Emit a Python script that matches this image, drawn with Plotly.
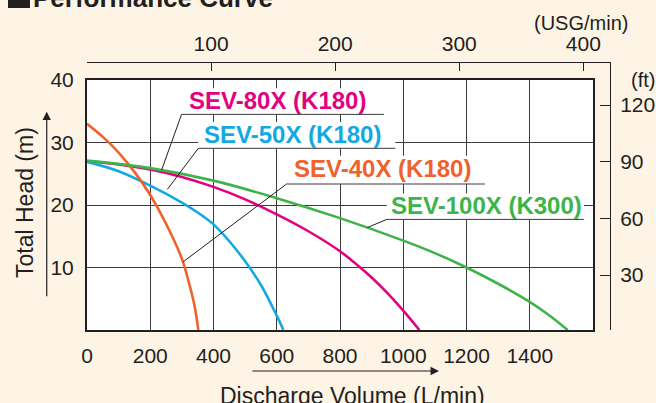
import plotly.graph_objects as go

# ---------------- data ----------------
q_40 = [0, 50, 100, 150, 200, 250, 300, 320, 340, 352]
h_40 = [33.0, 30.9, 28.4, 25.3, 21.6, 17.0, 11.4, 8.0, 3.9, 0]

q_50 = [0, 100, 200, 300, 350, 400, 450, 500, 550, 600, 621]
h_50 = [26.9, 25.4, 23.1, 20.4, 18.8, 16.9, 14.2, 11.0, 7.2, 2.3, 0]

q_80 = [0, 100, 200, 300, 400, 500, 600, 700, 800, 850, 900, 950, 1000, 1051]
h_80 = [27.0, 26.5, 25.7, 24.5, 22.9, 20.9, 18.5, 15.8, 12.6, 10.6, 8.4, 5.9, 3.1, 0]

q_100 = [0, 200, 400, 600, 800, 1000, 1100, 1200, 1300, 1400, 1460, 1520]
h_100 = [27.1, 25.9, 23.9, 21.1, 17.9, 14.3, 12.3, 10.0, 7.4, 4.5, 2.4, 0]

series_names = ["SEV-80X (K180)", "SEV-50X (K180)", "SEV-40X (K180)", "SEV-100X (K300)"]
series_colors = ["#E5007F", "#12A9E3", "#F0622C", "#3DB449"]

x_ticks = [0, 200, 400, 600, 800, 1000, 1200, 1400]
y_ticks = [10, 20, 30, 40]
usg_ticks = [100, 200, 300, 400]
ft_ticks = [30, 60, 90, 120]

# label placement (data coords): text centre, underline (x0, x1, y), leader end on curve
label_text_pos = [(601, 36.7), (649, 31.3), (933, 25.9), (1262, 19.85)]
label_underline = [(299, 939, 34.5), (352, 975, 29.07), (631, 1258, 23.36), (948, 1571, 17.7)]
label_leader_end = [(236, 25.6), (254, 22.5), (304, 10.9), (887, 16.4)]

INK = "#231F20"
BG = "#FEF4E6"
FONT = "Liberation Sans, Arial, sans-serif"

fig = go.Figure()

curves = [(q_80, h_80), (q_50, h_50), (q_40, h_40), (q_100, h_100)]
for (q, h), name, col in zip(curves, series_names, series_colors):
    fig.add_trace(go.Scatter(x=q, y=h, mode="lines", name=name,
                             line=dict(color=col, width=2.6, shape="spline", smoothing=1.0),
                             showlegend=False, hoverinfo="skip"))

# empty traces to bring the secondary (USG / ft) axes to life
fig.add_trace(go.Scatter(x=[None], y=[None], xaxis="x2", yaxis="y3", showlegend=False))
fig.add_trace(go.Scatter(x=[None], y=[None], xaxis="x3", yaxis="y2", showlegend=False))

shapes = []
shapes.append(dict(type="rect", xref="x domain", yref="y domain", x0=0, x1=1, y0=0, y1=1,
                   fillcolor="white", line=dict(width=0), layer="below"))
annotations = []
for i, name in enumerate(series_names):
    tx, ty = label_text_pos[i]
    ux0, ux1, uy = label_underline[i]
    lx, ly = label_leader_end[i]
    shapes.append(dict(type="rect", xref="x", yref="y", x0=ux0, x1=ux1, y0=uy, y1=ty + 2.0,
                       fillcolor="white", line=dict(width=0), layer="between"))
    shapes.append(dict(type="line", xref="x", yref="y", x0=ux0, x1=ux1, y0=uy, y1=uy,
                       line=dict(color="#3a3a3a", width=1), layer="above"))
    shapes.append(dict(type="line", xref="x", yref="y", x0=ux0, x1=lx, y0=uy, y1=ly,
                       line=dict(color=INK, width=1), layer="above"))
    annotations.append(dict(x=tx, y=ty, xref="x", yref="y", text="<b>%s</b>" % name,
                            showarrow=False, font=dict(family=FONT, size=24, color=series_colors[i]),
                            xanchor="center", yanchor="middle"))

# title square
shapes.append(dict(type="rect", xref="paper", yref="paper", x0=-0.151, x1=-0.109, y0=1.2015, y1=1.29,
                   fillcolor=INK, line=dict(width=0)))
annotations.append(dict(x=-0.1071, y=1.237, xref="paper", yref="paper", text="<b>Performance Curve</b>",
                        showarrow=False, xanchor="left", yanchor="middle",
                        font=dict(family=FONT, size=26, color=INK)))
annotations.append(dict(x=0.9446, y=1.1455, xref="paper", yref="paper", text="(USG/min)",
                        showarrow=False, xanchor="center", yanchor="middle",
                        font=dict(family=FONT, size=20, color=INK)))
annotations.append(dict(x=1.063, y=0.933, xref="paper", yref="paper", text="(ft)",
                        showarrow=False, xanchor="center", yanchor="middle",
                        font=dict(family=FONT, size=20, color=INK)))
annotations.append(dict(x=-0.1185, y=0.474, xref="paper", yref="paper", text="Total Head (m)",
                        showarrow=False, textangle=-90, xanchor="center", yanchor="middle",
                        font=dict(family=FONT, size=23, color=INK)))
annotations.append(dict(x=0.507, y=-0.245, xref="paper", yref="paper", text="Discharge Volume (L/min)",
                        showarrow=False, xanchor="center", yanchor="middle",
                        font=dict(family=FONT, size=23, color=INK)))
annotations.append(dict(x=-0.077, y=0.8146, xref="paper", yref="paper", text="", showarrow=True,
                        ax=0, ay=186, arrowhead=2, arrowsize=1.4, arrowwidth=1.2, arrowcolor=INK))
annotations.append(dict(x=0.673, y=-0.153, xref="paper", yref="paper", text="", showarrow=True,
                        ax=-188, ay=0, arrowhead=2, arrowsize=1.4, arrowwidth=1.2, arrowcolor=INK))

tickfont = dict(family=FONT, size=21, color=INK)

fig.update_layout(
    width=656, height=403, autosize=False,
    margin=dict(l=87, r=46, t=62, b=73, pad=0, autoexpand=False),
    paper_bgcolor=BG, plot_bgcolor="rgba(0,0,0,0)",
    showlegend=False,
    shapes=shapes, annotations=annotations,
    xaxis=dict(domain=[0, 0.9675], range=[0, 1600], tickvals=x_ticks, ticks="",
               showgrid=True, gridcolor="#3c3c3c", gridwidth=1, zeroline=False,
               showline=True, linecolor=INK, linewidth=2, mirror=True,
               tickfont=tickfont, ticklabelstandoff=6, anchor="y", automargin=False),
    yaxis=dict(domain=[0, 0.9328], range=[0, 40], tickvals=y_ticks, ticks="",
               showgrid=True, gridcolor="#3c3c3c", gridwidth=1, zeroline=False,
               showline=True, linecolor=INK, linewidth=2, mirror=True,
               tickfont=tickfont, ticklabelstandoff=7, anchor="x", automargin=False),
    xaxis2=dict(domain=[0, 1], range=[0, 421.5], tickvals=usg_ticks, side="top",
                anchor="free", position=1, ticks="inside", ticklen=8, tickwidth=1,
                tickcolor=INK, showline=True, linecolor=INK, linewidth=1,
                showgrid=False, zeroline=False, tickfont=tickfont, ticklabelstandoff=3,
                automargin=False),
    yaxis2=dict(domain=[0, 1], range=[0.9, 142.8], tickvals=ft_ticks, side="right",
                anchor="free", position=1, ticks="inside", ticklen=10, tickwidth=1,
                tickcolor=INK, showline=True, linecolor=INK, linewidth=1,
                showgrid=False, zeroline=False, tickfont=tickfont, ticklabelstandoff=5,
                automargin=False),
    xaxis3=dict(domain=[0, 0.9675], range=[0, 1], visible=False, anchor="y2"),
    yaxis3=dict(domain=[0, 0.9328], range=[0, 1], visible=False, anchor="x2"),
)

post = ("document.documentElement.style.margin='0';document.body.style.margin='0';"
        "document.body.style.padding='0';document.documentElement.style.overflow='hidden';"
        "document.body.style.overflow='hidden';")
fig.write_html("out.html", config={"responsive": False, "displayModeBar": False}, post_script=post)
